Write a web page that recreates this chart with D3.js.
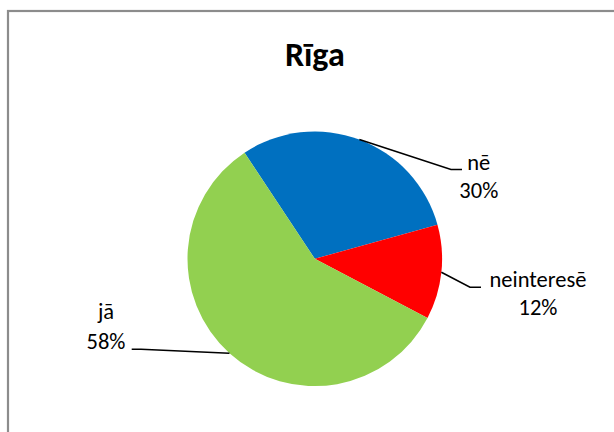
<!DOCTYPE html>
<html>
<head>
<meta charset="utf-8">
<script src="https://cdn.jsdelivr.net/npm/d3@7"></script>
<style>
  html, body { margin: 0; padding: 0; background: #fff; }
  svg { display: block; }
  text { font-family: Carlito, Calibri, Lato, "Open Sans", sans-serif; fill: #000; }
</style>
</head>
<body>
<svg id="chart" width="614" height="432"></svg>
<script>
// Survey answers for Rīga
const title = "Rīga";
const categories = ["nē", "neinteresē", "jā"];
const values = [30, 12, 58];
const colors = ["#0070C0", "#FF0000", "#92D050"];

// Layout
const W = 614, H = 432;
const cx = 314.8, cy = 258.8, radius = 127.3;
const firstSliceAngle = -33.5; // degrees, clockwise from 12 o'clock

// Label anchors relative to the pie centre: elbow of the leader, end of its
// horizontal stub, text centre x, and baselines of the name and percent lines.
const labelLayout = [
  { elbow: [136.2, -89.3], stub: [147.2, -89.3], tx: 164.0, y1: -89.3, y2: -60.5 },
  { elbow: [155.2, 28.5],  stub: [166.2, 28.5],  tx: 223.2, y1: 28.3,  y2: 56.5 },
  { elbow: [-173.8, 90.5], stub: [-183.1, 90.5], tx: -208.8, y1: 60.5, y2: 90.5 }
];

const svg = d3.select("#chart");

// Chart frame (extends past the visible area on the right and bottom)
svg.append("rect")
  .attr("x", 8).attr("y", 11)
  .attr("width", W + 20).attr("height", H + 20)
  .attr("fill", "#fff")
  .attr("stroke", "#8c8c8c")
  .attr("stroke-width", 2.2);

svg.append("text")
  .attr("x", cx).attr("y", 66)
  .attr("text-anchor", "middle")
  .attr("font-weight", "bold")
  .attr("font-size", 34)
  .text(title);

const rad = Math.PI / 180;
const pie = d3.pie()
  .sort(null)
  .value(d => d)
  .startAngle(firstSliceAngle * rad)
  .endAngle((firstSliceAngle + 360) * rad);

const arcs = pie(values);
const arc = d3.arc().innerRadius(0).outerRadius(radius);

const g = svg.append("g").attr("transform", `translate(${cx},${cy})`);

g.selectAll("path.slice")
  .data(arcs)
  .join("path")
  .attr("class", "slice")
  .attr("d", arc)
  .attr("fill", (d, i) => colors[i]);

const total = d3.sum(values);

// Leader lines: from the slice edge at its mid-angle to the label
g.selectAll("path.leader")
  .data(arcs)
  .join("path")
  .attr("class", "leader")
  .attr("fill", "none")
  .attr("stroke", "#000")
  .attr("stroke-width", 1.6)
  .attr("d", (d, i) => {
    const a = (d.startAngle + d.endAngle) / 2;
    const p0 = [Math.sin(a) * radius, -Math.cos(a) * radius];
    const L = labelLayout[i];
    return d3.line()([p0, L.elbow, L.stub]);
  });

const labels = g.selectAll("g.label")
  .data(arcs)
  .join("g")
  .attr("class", "label");

labels.append("text")
  .attr("x", (d, i) => labelLayout[i].tx)
  .attr("y", (d, i) => labelLayout[i].y1)
  .attr("text-anchor", "middle")
  .attr("font-size", 22.5)
  .text((d, i) => categories[i]);

labels.append("text")
  .attr("x", (d, i) => labelLayout[i].tx)
  .attr("y", (d, i) => labelLayout[i].y2)
  .attr("text-anchor", "middle")
  .attr("font-size", 22.5)
  .text(d => Math.round(d.value / total * 100) + "%");
</script>
</body>
</html>
